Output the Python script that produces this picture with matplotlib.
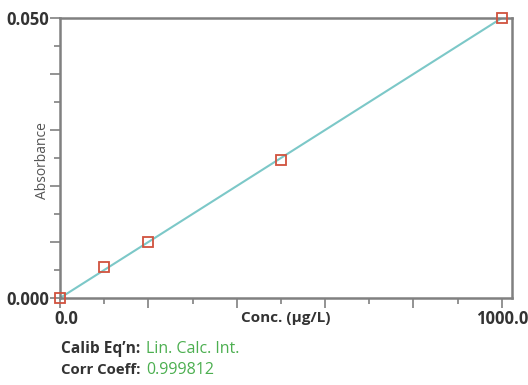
import matplotlib
matplotlib.use("Agg")
import matplotlib.pyplot as plt
import matplotlib.transforms as mtransforms
import numpy as np

conc = [0, 100, 200, 500, 1000]
absorb = [0.0, 0.0055, 0.0100, 0.0247, 0.0500]
fit_x = [0, 1000]
fit_y = [0.0, 0.0500]
x_tick_labels = ["0.0", "1000.0"]
y_tick_labels = ["0.000", "0.050"]
calib_eqn = "Lin. Calc. Int."
corr_coeff = "0.999812"

plt.rcParams['font.family'] = ['Open Sans', 'DejaVu Sans']

fig = plt.figure(figsize=(5.28, 3.85), dpi=100)
ax = fig.add_axes([60/528, 1-298/385, (512-60)/528, (298-18)/385])

ax.plot(fit_x, fit_y, color='#7cc8c8', lw=1.5, zorder=2)
ax.plot(conc, absorb, ls='none', marker='s', ms=7, mfc='none', mec='#d0523e', mew=1.3,
        clip_on=False, zorder=3)

ax.set_xlim(0, 1023)
ax.set_ylim(0, 0.05)

ax.set_xticks(np.arange(0, 1001, 200))
ax.set_xticks(np.arange(100, 1001, 200), minor=True)
ax.set_xticklabels([x_tick_labels[0], '', '', '', '', x_tick_labels[1]])
ax.set_yticks(np.arange(0, 0.0501, 0.01))
ax.set_yticks(np.arange(0.005, 0.05, 0.01), minor=True)
ax.set_yticklabels([y_tick_labels[0], '', '', '', '', y_tick_labels[1]])

for s in ax.spines.values():
    s.set_color('#808080')
    s.set_linewidth(1.8)
ax.tick_params(which='major', length=7, width=1.2, color='#808080', labelsize=12,
               labelcolor='#333333')
ax.tick_params(axis='y', which='major', pad=0.5)
ax.tick_params(axis='x', which='major', pad=2)
ax.tick_params(which='minor', length=4, width=1.2, color='#808080')
for lab in ax.get_xticklabels() + ax.get_yticklabels():
    lab.set_fontweight('bold')
xl = ax.get_xticklabels()
xl[0].set_transform(xl[0].get_transform() +
                    mtransforms.ScaledTranslation(6/100, 0, fig.dpi_scale_trans))

ax.set_xlabel('Conc. (µg/L)', fontsize=11, fontweight='bold', color='#333333', va='center')
ax.xaxis.set_label_coords(0.5, (298-318)/280)
ax.set_ylabel('Absorbance', fontsize=10, color='#555555', va='center')
ax.yaxis.set_label_coords((42-60)/452, (298-161)/280)

fig.text(61/528, 1-349/385, 'Calib Eq\u2019n:', fontsize=11.2, fontweight='bold', color='#333333', va='center')
fig.text(146/528, 1-349/385, calib_eqn, fontsize=11.5, color='#4caf50', va='center')
fig.text(61/528, 1-370/385, 'Corr Coeff:', fontsize=10.8, fontweight='bold', color='#333333', va='center')
fig.text(146/528, 1-370/385, corr_coeff, fontsize=11.5, color='#4caf50', va='center')

fig.savefig('out.png', dpi=100)
